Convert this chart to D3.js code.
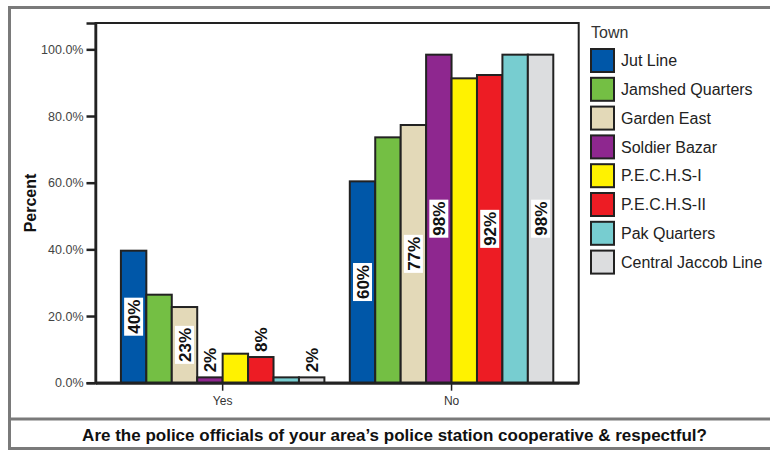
<!DOCTYPE html>
<html>
<head>
<meta charset="utf-8">
<script src="https://cdn.jsdelivr.net/npm/d3@7"></script>
<style>
  body { margin: 0; background: #fff; }
  svg { display: block; font-family: "Liberation Sans", Arial, sans-serif; }
</style>
</head>
<body>
<svg id="chart" width="770" height="450"></svg>
<script>
// answers and towns, values in percent
const answers = ["Yes", "No"];
const towns = ["Jut Line", "Jamshed Quarters", "Garden East", "Soldier Bazar",
               "P.E.C.H.S-I", "P.E.C.H.S-II", "Pak Quarters", "Central Jaccob Line"];
const yesValues = [39.6, 26.4, 22.7, 1.6, 8.7, 7.7, 1.6, 1.6];
const noValues  = [60.4, 73.6, 77.3, 98.4, 91.3, 92.3, 98.4, 98.4];
const townColors = ["#0057a8", "#74bf44", "#e3d9b8", "#8e278f",
                    "#fff200", "#ed1c24", "#77cdd0", "#dcdddf"];
const labelledTowns = ["Jut Line", "Garden East", "Soldier Bazar", "P.E.C.H.S-II", "Central Jaccob Line"];
const yTicks = [0, 20, 40, 60, 80, 100];
const title = "Are the police officials of your area\u2019s police station cooperative & respectful?";

const svg = d3.select("#chart");
const ink = "#222";

const plot = { left: 95.5, top: 23, right: 578.7, bottom: 382.7 };

const x0 = d3.scaleBand().domain(answers).range([plot.left, plot.right]).padding(0.111);
const x1 = d3.scaleBand().domain(towns).range([0, x0.bandwidth()]);
const y = d3.scaleLinear().domain([0, 107.9]).range([plot.bottom, plot.top]);
const color = d3.scaleOrdinal().domain(towns).range(townColors);

const rows = answers.map((a, i) => ({
  answer: a,
  values: towns.map((t, j) => ({ town: t, value: (i === 0 ? yesValues : noValues)[j] }))
}));

// outer frame
svg.append("rect")
    .attr("x", 9.5).attr("y", 7.5).attr("width", 800).attr("height", 441)
    .attr("fill", "none").attr("stroke", "#7a7a7a").attr("stroke-width", 3);
svg.append("line")
    .attr("x1", 9.5).attr("x2", 800).attr("y1", 419).attr("y2", 419)
    .attr("stroke", "#7a7a7a").attr("stroke-width", 3);

// plot frame
svg.append("rect")
    .attr("x", plot.left).attr("y", plot.top)
    .attr("width", plot.right - plot.left).attr("height", plot.bottom - plot.top)
    .attr("fill", "#fff").attr("stroke", ink).attr("stroke-width", 2);

// bars
const group = svg.selectAll("g.grp")
  .data(rows)
  .enter().append("g")
    .attr("class", "grp")
    .attr("transform", d => `translate(${x0(d.answer)},0)`);

group.selectAll("rect")
  .data(d => d.values)
  .enter().append("rect")
    .attr("x", d => x1(d.town))
    .attr("y", d => y(d.value))
    .attr("width", x1.bandwidth())
    .attr("height", d => y(0) - y(d.value))
    .attr("fill", d => color(d.town))
    .attr("stroke", ink)
    .attr("stroke-width", 2);

// y axis
const yAxis = svg.append("g")
    .attr("transform", `translate(${plot.left},0)`)
    .call(d3.axisLeft(y).tickValues(yTicks).tickSize(9).tickPadding(3).tickFormat(d => d3.format(".1f")(d) + "%"));
yAxis.select(".domain").attr("stroke", ink).attr("stroke-width", 2.5);
yAxis.selectAll(".tick line").attr("stroke", ink).attr("stroke-width", 2.5);
yAxis.selectAll(".tick text").attr("fill", "#444").style("font-size", "12.5px");

// x axis
const xAxis = svg.append("g")
    .attr("transform", `translate(0,${plot.bottom})`)
    .call(d3.axisBottom(x0).tickSize(8).tickPadding(6).tickSizeOuter(0));
xAxis.select(".domain").attr("stroke", ink).attr("stroke-width", 3);
xAxis.selectAll(".tick line").attr("stroke", ink).attr("stroke-width", 1.5);
xAxis.selectAll(".tick text").attr("fill", "#333").style("font-size", "12px");

// value labels
group.selectAll("g.lbl")
  .data(d => d.values.filter(v => labelledTowns.includes(v.town)))
  .enter().append("g")
    .attr("class", "lbl")
    .each(function(d) {
      const g = d3.select(this);
      const txt = g.append("text")
          .attr("text-anchor", "middle")
          .attr("dy", "0.36em")
          .style("font-size", "17px")
          .style("font-weight", "bold")
          .attr("fill", "#111")
          .text(Math.round(d.value) + "%");
      const w = txt.node().getComputedTextLength();
      const h = y(0) - y(d.value);
      const cx = x1(d.town) + x1.bandwidth() / 2;
      const cy = h > w + 12 ? y(d.value) + h / 2 : y(d.value) - 5 - w / 2;
      g.insert("rect", "text")
          .attr("x", -w / 2 - 2).attr("y", -9.5)
          .attr("width", w + 4).attr("height", 19)
          .attr("fill", "#fff");
      g.attr("transform", `translate(${cx},${cy}) rotate(-90)`);
    });

// y axis title
svg.append("text")
    .attr("transform", "translate(30,203) rotate(-90)")
    .attr("text-anchor", "middle")
    .attr("dy", "0.35em")
    .style("font-size", "16px")
    .style("font-weight", "bold")
    .attr("fill", "#111")
    .text("Percent");

// legend
const legend = svg.append("g").attr("transform", "translate(591,0)");
legend.append("text")
    .attr("x", 0).attr("y", 32).attr("dy", "0.35em")
    .style("font-size", "16px").attr("fill", "#333")
    .text("Town");
const item = legend.selectAll("g.item")
  .data(towns)
  .enter().append("g")
    .attr("class", "item")
    .attr("transform", (d, i) => `translate(0,${49 + i * 28.8})`);
item.append("rect")
    .attr("width", 23).attr("height", 23)
    .attr("fill", d => color(d))
    .attr("stroke", ink).attr("stroke-width", 2);
item.append("text")
    .attr("x", 30).attr("y", 11.5).attr("dy", "0.36em")
    .style("font-size", "16px").attr("fill", "#222")
    .text(d => d);

// bottom title
svg.append("text")
    .attr("x", 394.5).attr("y", 435).attr("dy", "0.35em")
    .attr("text-anchor", "middle")
    .style("font-size", "17px")
    .style("font-weight", "bold")
    .attr("fill", "#111")
    .text(title);
</script>
</body>
</html>
